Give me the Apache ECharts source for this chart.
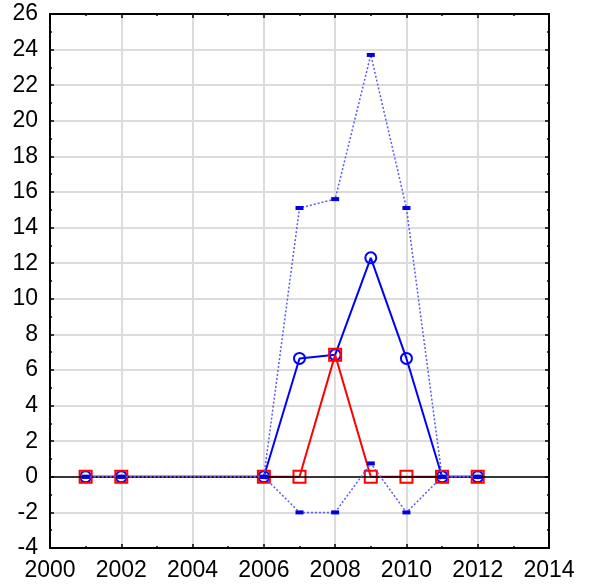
<!DOCTYPE html>
<html><head><meta charset="utf-8">
<script src="https://cdn.jsdelivr.net/npm/echarts@6/dist/echarts.min.js"></script>
<style>html,body{margin:0;padding:0;background:#fff}#c{width:589px;height:585px}</style>
</head><body><div id="c"></div>
<script>
var years = [2001, 2002, 2006, 2007, 2008, 2009, 2010, 2011, 2012];
var meanValues = [0, 0, 0, 6.65, 6.85, 12.3, 6.65, 0, 0];
var redValues = [0, 0, 0, 0, 6.85, 0, 0, 0, 0];
var upperValues = [0, 0, 0, 15.1, 15.6, 23.7, 15.1, 0, 0];
var lowerValues = [0, 0, 0, -2, -2, 0.75, -2, 0, 0];
var xTicks = [2000, 2014, 2];
var yTicks = [-4, 26, 2];

function pairs(v){ return years.map(function(y,i){ return [y, v[i]]; }); }
var font = 'Liberation Sans, Arial, sans-serif';
var chart = echarts.init(document.getElementById('c'));
function xa(pos, show){
  return {type:'value', position:pos, min:xTicks[0], max:xTicks[1], interval:xTicks[2],
    axisLine:{show:true, onZero:false, lineStyle:{color:'#000', width:2}},
    axisTick:{show:true, inside:true, length:4, lineStyle:{color:'#000', width:1.5}},
    minorTick:{show:true, splitNumber:2, length:2, lineStyle:{color:'#000', width:1.5}},
    axisLabel:{show:show, color:'#000', fontSize:23, fontFamily:font, margin:11,
      formatter:function(v){ return String(v); }},
    splitLine:{show:show, lineStyle:{color:'#dcdcdc', width:2}}};
}
function ya(pos, show){
  return {type:'value', position:pos, min:yTicks[0], max:yTicks[1], interval:yTicks[2],
    axisLine:{show:true, onZero:false, lineStyle:{color:'#000', width:2}},
    axisTick:{show:true, inside:true, length:4, lineStyle:{color:'#000', width:1.5}},
    minorTick:{show:true, splitNumber:2, length:2, lineStyle:{color:'#000', width:1.5}},
    axisLabel:{show:show, color:'#000', fontSize:23, fontFamily:font, margin:12,
      formatter:function(v){ return String(v); }},
    splitLine:{show:show, lineStyle:{color:'#dcdcdc', width:2}}};
}
chart.setOption({
  animation:false,
  grid:{left:50, right:40, top:14, bottom:37},
  xAxis:[xa('bottom', true), xa('top', false)],
  yAxis:[ya('left', true), ya('right', false)],
  series:[
    {type:'line', data:pairs(meanValues), symbol:'circle', symbolSize:11, z:3,
      lineStyle:{color:'#0000ff', width:2}, itemStyle:{color:'transparent', borderColor:'#0000ff', borderWidth:2}},
    {type:'line', data:pairs(redValues), symbol:'rect', symbolSize:12, z:4,
      lineStyle:{color:'#ff0000', width:2}, itemStyle:{color:'transparent', borderColor:'#ff0000', borderWidth:2},
      markLine:{silent:true, symbol:'none', label:{show:false}, data:[{yAxis:0}],
        lineStyle:{color:'#000', width:1.5, type:'solid'}}},
    {type:'line', data:pairs(upperValues), symbol:'rect', symbolSize:[8,4], z:5,
      lineStyle:{color:'#5a5aff', width:1.5, type:[2,2]}, itemStyle:{color:'#0000dd'}},
    {type:'line', data:pairs(lowerValues), symbol:'rect', symbolSize:[8,4], z:5,
      lineStyle:{color:'#5a5aff', width:1.5, type:[2,2]}, itemStyle:{color:'#0000dd'}}
  ]
});
</script></body></html>
